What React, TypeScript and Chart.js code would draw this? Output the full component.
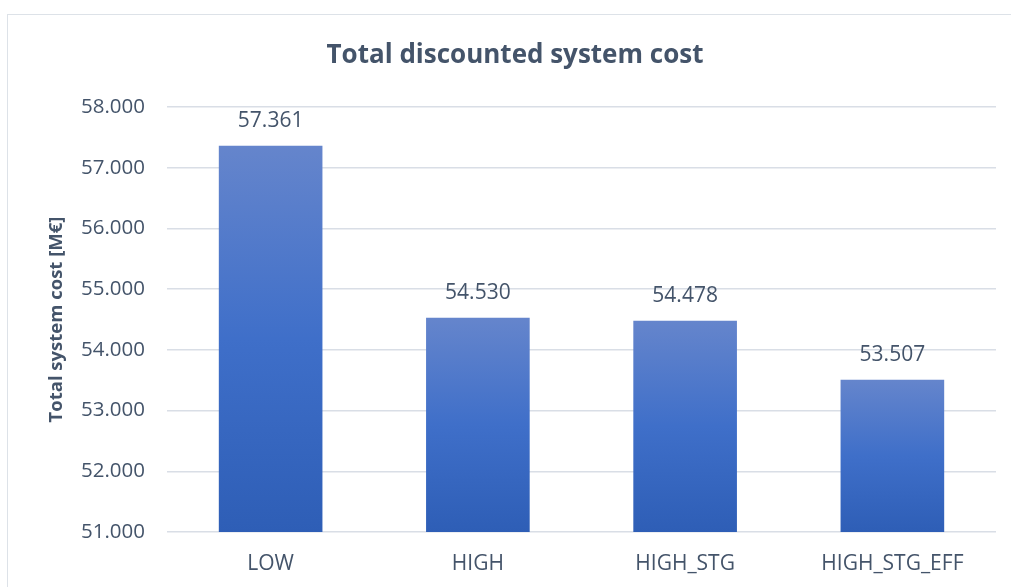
import React, { useEffect, useRef } from "react";
import { Chart, registerables } from "chart.js";

Chart.register(...registerables);

const categories: string[] = ["LOW", "HIGH", "HIGH_STG", "HIGH_STG_EFF"];
const costValues: number[] = [57361, 54530, 54478, 53507];
const yMin = 51000;
const yMax = 58000;
const yStep = 1000;
const chartTitle = "Total discounted system cost";
const yAxisTitle = "Total system cost [M€]";

const TEXT = "#44546A";
const GRID = "#D9DEE6";
const FONT = "'Open Sans', 'Noto Sans', sans-serif";

function fmt(v: number): string {
  const s = Math.round(v).toString();
  return s.replace(/\B(?=(\d{3})+(?!\d))/g, ".");
}

const valueLabels = {
  id: "valueLabels",
  afterDatasetsDraw(chart: any) {
    const { ctx } = chart;
    const meta = chart.getDatasetMeta(0);
    ctx.save();
    ctx.fillStyle = TEXT;
    ctx.font = `21px ${FONT}`;
    ctx.textAlign = "center";
    ctx.textBaseline = "middle";
    meta.data.forEach((bar: any, i: number) => {
      const v = chart.data.datasets[0].data[i] as number;
      ctx.fillText(fmt(v), bar.x, bar.y - 25);
    });
    ctx.restore();
  },
};

const frameTitle = {
  id: "frameTitle",
  afterDraw(chart: any) {
    const { ctx } = chart;
    ctx.save();
    ctx.fillStyle = TEXT;
    ctx.font = `bold 26px ${FONT}`;
    ctx.textAlign = "center";
    ctx.textBaseline = "middle";
    ctx.fillText(chartTitle, 515, 56);
    ctx.restore();
  },
};

export default function App() {
  const ref = useRef<HTMLCanvasElement | null>(null);

  useEffect(() => {
    if (!ref.current) return;
    const chart = new Chart(ref.current, {
      type: "bar",
      data: {
        labels: categories,
        datasets: [
          {
            data: costValues,
            backgroundColor: (c: any) => {
              const ch = c.chart;
              const area = ch.chartArea;
              if (!area || c.raw == null) return "#3F6FC9";
              const top = ch.scales.y.getPixelForValue(c.raw);
              const bottom = ch.scales.y.getPixelForValue(yMin);
              const g = ch.ctx.createLinearGradient(0, top, 0, bottom);
              g.addColorStop(0, "#6585CC");
              g.addColorStop(0.5, "#3F6FC9");
              g.addColorStop(1, "#2E5EB6");
              return g;
            },
            borderWidth: 0,
            barPercentage: 0.5,
            categoryPercentage: 1,
          },
        ],
      },
      plugins: [valueLabels, frameTitle],
      options: {
        animation: false,
        responsive: false,
        maintainAspectRatio: false,
        layout: { padding: { left: 0, right: 15, top: 107, bottom: 0 } },
        plugins: {
          legend: { display: false },
          tooltip: { enabled: false },
          title: { display: false },
        },
        scales: {
          x: {
            grid: { display: false, drawTicks: false },
            border: { display: false },
            ticks: {
              color: TEXT,
              font: { family: FONT, size: 21 },
              padding: 19,
            },
            afterFit: (s: any) => {
              s.height = 55;
            },
          },
          y: {
            min: yMin,
            max: yMax,
            grid: { color: GRID, lineWidth: 1.5, drawTicks: false },
            border: { display: false },
            ticks: {
              stepSize: yStep,
              color: TEXT,
              font: { family: FONT, size: 20.5 },
              padding: 22,
              callback: (v: any) => fmt(Number(v)),
            },
            title: {
              display: true,
              text: yAxisTitle,
              color: TEXT,
              font: { family: FONT, size: 18.5, weight: "bold" },
              padding: { top: 46, bottom: 0 },
            },
            afterFit: (s: any) => {
              s.width = 167;
            },
          },
        },
      },
    });
    return () => chart.destroy();
  }, []);

  return (
    <div
      style={{
        position: "fixed",
        left: 0,
        top: 0,
        width: 1011,
        height: 587,
        background: "#ffffff",
        overflow: "hidden",
      }}
    >
      <div
        style={{
          position: "absolute",
          left: 7,
          top: 14,
          width: 1040,
          height: 640,
          border: "1.5px solid #DDE2E8",
          boxSizing: "border-box",
        }}
      />
      <canvas
        ref={ref}
        width={1011}
        height={587}
        style={{ position: "absolute", left: 0, top: 0, width: 1011, height: 587 }}
      />
    </div>
  );
}
